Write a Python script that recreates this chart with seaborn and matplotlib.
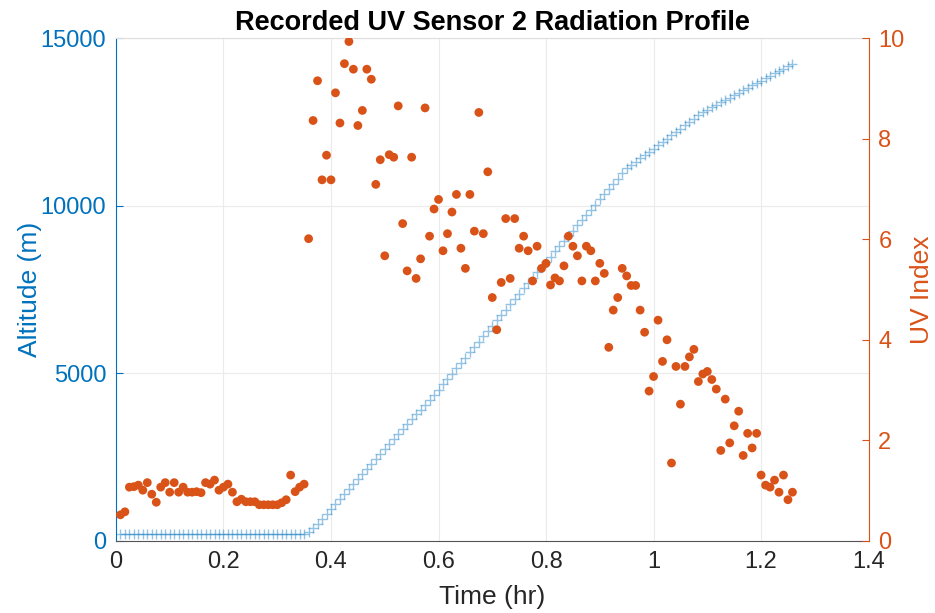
import numpy as np
import pandas as pd
import matplotlib
matplotlib.use("Agg")
import matplotlib.pyplot as plt
import seaborn as sns

# ---------------- data ----------------
time_s = [
    30, 60, 90, 120, 150, 180, 210, 240, 270, 300,
    330, 360, 390, 420, 450, 480, 510, 540, 570, 600,
    630, 660, 690, 720, 750, 780, 810, 840, 870, 900,
    930, 960, 990, 1020, 1050, 1080, 1110, 1140, 1170, 1200,
    1230, 1260, 1290, 1320, 1350, 1380, 1410, 1440, 1470, 1500,
    1530, 1560, 1590, 1620, 1650, 1680, 1710, 1740, 1770, 1800,
    1830, 1860, 1890, 1920, 1950, 1980, 2010, 2040, 2070, 2100,
    2130, 2160, 2190, 2220, 2250, 2280, 2310, 2340, 2370, 2400,
    2430, 2460, 2490, 2520, 2550, 2580, 2610, 2640, 2670, 2700,
    2730, 2760, 2790, 2820, 2850, 2880, 2910, 2940, 2970, 3000,
    3030, 3060, 3090, 3120, 3150, 3180, 3210, 3240, 3270, 3300,
    3330, 3360, 3390, 3420, 3450, 3480, 3510, 3540, 3570, 3600,
    3630, 3660, 3690, 3720, 3750, 3780, 3810, 3840, 3870, 3900,
    3930, 3960, 3990, 4020, 4050, 4080, 4110, 4140, 4170, 4200,
    4230, 4260, 4290, 4320, 4350, 4380, 4410, 4440, 4470, 4500,
    4530,
]

altitude_m = [
    220, 220, 220, 220, 220, 220, 220, 220, 220, 220,
    220, 220, 220, 220, 220, 220, 220, 220, 220, 220,
    220, 220, 220, 220, 220, 220, 220, 220, 220, 220,
    220, 220, 220, 220, 220, 220, 220, 220, 220, 220,
    220, 220, 260, 380, 520, 660, 800, 960, 1108, 1256,
    1404, 1552, 1700, 1848, 1996, 2144, 2292, 2440, 2588, 2736,
    2884, 3032, 3180, 3328, 3476, 3624, 3772, 3920, 4068, 4216,
    4364, 4512, 4671, 4830, 4989, 5148, 5307, 5466, 5625, 5784,
    5943, 6102, 6261, 6420, 6579, 6738, 6897, 7056, 7215, 7374,
    7533, 7692, 7851, 8010, 8169, 8328, 8483, 8638, 8793, 8948,
    9103, 9258, 9413, 9568, 9723, 9878, 10033, 10188, 10343, 10498,
    10653, 10808, 10963, 11110, 11209, 11308, 11407, 11506, 11605, 11704,
    11803, 11902, 12001, 12100, 12199, 12298, 12397, 12496, 12595, 12694,
    12793, 12865, 12937, 13009, 13081, 13153, 13225, 13297, 13369, 13441,
    13513, 13585, 13657, 13729, 13801, 13873, 13945, 14017, 14089, 14161,
    14233,
]

uv_index = [
    0.52, 0.58, 1.07, 1.08, 1.11, 1.01, 1.16, 0.93, 0.77, 1.07,
    1.16, 0.97, 1.16, 0.97, 1.07, 0.97, 0.97, 0.98, 0.96, 1.16,
    1.13, 1.21, 1.01, 1.07, 1.13, 0.97, 0.78, 0.83, 0.78, 0.78,
    0.78, 0.72, 0.72, 0.72, 0.72, 0.72, 0.76, 0.82, 1.31, 0.98,
    1.07, 1.13,
    6.01, 8.36, 9.15, 7.18, 7.67, 7.18, 8.91, 8.31, 9.49, 9.93,
    9.38, 8.26, 8.56, 9.38, 9.18, 7.09, 7.58, 5.67, 7.68, 7.63,
    8.65, 6.31, 5.37, 7.63, 5.22, 5.61, 8.61, 6.06, 6.60, 6.79,
    5.77, 6.11, 6.54, 6.89, 5.82, 5.42, 6.89, 6.16, 8.52, 6.11,
    7.34, 4.84, 4.20, 5.14, 6.41, 5.22, 6.41, 5.82, 6.06, 5.77,
    5.17, 5.86, 5.42, 5.52, 5.09, 5.23, 5.17, 5.47, 6.06, 5.86,
    5.67, 5.17, 5.86, 5.77, 5.17, 5.52, 5.32, 3.85, 4.59, 4.84,
    5.42, 5.27, 5.08, 5.08, 4.59, 4.15, 2.98, 3.27, 4.39, 3.57,
    4.00, 1.55, 3.47, 2.72, 3.47, 3.66, 3.81, 3.17, 3.32, 3.37,
    3.21, 3.02, 1.80, 2.82, 1.95, 2.29, 2.58, 1.70, 2.14, 1.85,
    2.14, 1.31, 1.11, 1.07, 1.21, 0.97, 1.31, 0.82, 0.97,
]

x_ticks = [0, 0.2, 0.4, 0.6, 0.8, 1.0, 1.2, 1.4]
x_tick_labels = ["0", "0.2", "0.4", "0.6", "0.8", "1", "1.2", "1.4"]
alt_ticks = [0, 5000, 10000, 15000]
uv_ticks = [0, 2, 4, 6, 8, 10]

df = pd.DataFrame({
    "time_hr": np.array(time_s) / 3600.0,
    "altitude": altitude_m,
    "uv": uv_index,
})

# ---------------- style ----------------
sns.set_style("white")
plt.rcParams["font.family"] = ["Liberation Sans", "DejaVu Sans"]

BLUE = "#0072BD"
ORANGE = "#D95319"
DARK = "#262626"

fig = plt.figure(figsize=(9.35, 6.13), dpi=100)
ax1 = fig.add_axes([0.124, 0.1175, 0.805, 0.8205])
ax2 = ax1.twinx()

sns.scatterplot(data=df, x="time_hr", y="altitude", ax=ax1, marker="+",
                s=50, color=BLUE, alpha=0.42, linewidth=1.0, legend=False)
sns.scatterplot(data=df, x="time_hr", y="uv", ax=ax2, s=40, color=ORANGE,
                edgecolor="none", legend=False, zorder=3)

ax1.set_xlim(0, 1.4)
ax1.set_ylim(0, 15000)
ax2.set_ylim(0, 10)

ax1.set_xticks(x_ticks)
ax1.set_xticklabels(x_tick_labels)
ax1.set_yticks(alt_ticks)
ax1.set_yticklabels([str(v) for v in alt_ticks])
ax2.set_yticks(uv_ticks)
ax2.set_yticklabels([str(v) for v in uv_ticks])

ax1.grid(True, color="#EBEBEB", linewidth=0.8)
ax1.set_axisbelow(True)

ax1.tick_params(axis="x", direction="in", length=5, width=0.8, colors=DARK,
                labelsize=17, pad=7, top=False)
ax1.tick_params(axis="y", direction="in", length=5, width=0.8, colors=BLUE,
                labelsize=17, pad=7)
ax2.tick_params(axis="y", direction="in", length=5, width=0.8, colors=ORANGE,
                labelsize=17, pad=7)

ax1.spines["bottom"].set_color("#555555")
ax1.spines["bottom"].set_linewidth(0.8)
ax1.spines["top"].set_color("#DDDDDD")
ax1.spines["top"].set_linewidth(0.8)
ax1.spines["left"].set_color(BLUE)
ax1.spines["right"].set_visible(False)
ax2.spines["right"].set_color(ORANGE)
for sp in ["left", "top", "bottom"]:
    ax2.spines[sp].set_visible(False)

ax1.set_xlabel("Time (hr)", fontsize=19, color=DARK, labelpad=9)
ax1.set_ylabel("Altitude (m)", fontsize=19, color=BLUE, labelpad=-1)
ax2.set_ylabel("UV Index", fontsize=19, color=ORANGE, labelpad=4)
ax1.set_title("Recorded UV Sensor 2 Radiation Profile", fontsize=19.5,
              fontweight="bold", color="black", pad=6)

fig.savefig("out.png", dpi=100)
